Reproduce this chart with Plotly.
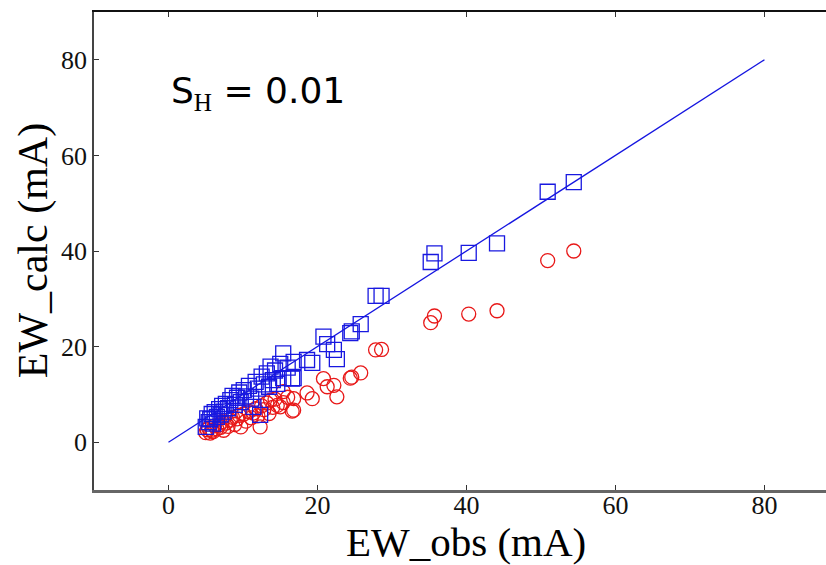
import plotly.graph_objects as go

# Observed equivalent widths (mA)
ew_obs = [54.4, 50.9, 44.1, 40.3, 35.7, 35.2, 28.6, 27.8, 25.8, 24.6,
          24.4, 20.8, 21.3, 22.2, 22.6, 18.6, 19.3, 16.8, 15.4, 16.6,
          5.0, 5.2, 5.4, 5.6, 5.8, 6.0, 6.2, 6.5, 6.8, 7.0,
          7.2, 7.4, 7.7, 8.0, 8.3, 8.6, 8.9, 9.2, 9.5, 9.7,
          10.1, 10.4, 10.8, 11.1, 11.4, 11.7, 12.0, 12.3, 12.5, 12.8,
          13.2, 13.5, 13.7, 14.0, 14.3, 14.6, 15.0, 15.4, 16.0, 16.8]
# Calculated EW, S_H = 0.01 (blue squares)
ew_calc_sh = [54.4, 52.4, 41.6, 39.6, 39.5, 37.7, 30.6, 30.6, 24.7, 23.2,
              22.8, 22.1, 20.5, 19.3, 17.4, 17.2, 16.6, 16.8, 18.6, 13.3,
              3.2, 5.0, 4.2, 4.8, 5.9, 3.9, 6.3, 5.3, 6.9, 5.8,
              7.6, 6.4, 8.0, 7.1, 8.8, 9.7, 7.8, 9.3, 10.4, 8.4,
              10.9, 9.6, 11.8, 9.1, 7.4, 12.6, 11.2, 5.7, 13.7, 12.1,
              14.4, 11.6, 15.8, 13.0, 15.0, 12.2, 16.4, 13.4, 15.6, 13.4]
# Calculated EW, second model (red circles)
ew_calc_alt = [40.0, 38.0, 27.5, 26.8, 26.4, 25.0, 19.4, 19.3, 14.5, 13.6,
               13.4, 13.3, 11.6, 11.9, 9.5, 10.3, 9.1, 9.1, 10.6, 6.5,
               2.0, 2.6, 3.0, 1.9, 2.5, 2.2, 3.4, 2.8, 3.6, 3.1,
               4.3, 2.5, 4.0, 3.3, 4.6, 5.2, 3.7, 4.9, 5.6, 3.2,
               5.9, 4.4, 6.4, 5.1, 6.1, 7.0, 5.5, 3.2, 7.6, 6.8,
               8.2, 6.0, 8.8, 7.3, 9.0, 7.7, 7.4, 8.3, 9.4, 6.7]
# one-to-one line
line_x = [0, 80]
line_y = [0, 80]

tick_vals = [0, 20, 40, 60, 80]
tick_text = ["0", "20", "40", "60", "80"]
x_range = [-10, 88.26]
y_range = [-10, 90]

fig = go.Figure()
fig.add_trace(go.Scatter(x=line_x, y=line_y, mode="lines",
                         line=dict(color="#1515e0", width=1.3),
                         showlegend=False, hoverinfo="skip"))
fig.add_trace(go.Scatter(x=ew_obs, y=ew_calc_alt, mode="markers",
                         marker=dict(symbol="circle-open", size=14,
                                     color="#e81818", line=dict(width=1.3)),
                         showlegend=False))
fig.add_trace(go.Scatter(x=ew_obs, y=ew_calc_sh, mode="markers",
                         marker=dict(symbol="square-open", size=15,
                                     color="#1818e0", line=dict(width=1.3)),
                         showlegend=False))
# invisible trace to carry the top (mirror) axis
fig.add_trace(go.Scatter(x=line_x, y=line_y, xaxis="x2", mode="markers",
                         marker=dict(opacity=0), showlegend=False, hoverinfo="skip"))

serif = "Liberation Serif"
axis_common = dict(
    tickmode="array", tickvals=tick_vals, ticktext=tick_text,
    ticks="inside", ticklen=5, tickwidth=1, tickcolor="#333",
    showgrid=False, zeroline=False, showline=True, automargin=False,
    tickfont=dict(family=serif, size=26, color="#111"),
)
fig.update_layout(
    xaxis=dict(range=x_range, linecolor="#666", linewidth=2.5,
               ticklabelstandoff=-10, **axis_common),
    yaxis=dict(range=y_range, linecolor="#444", linewidth=1.5, **axis_common),
    xaxis2=dict(range=x_range, overlaying="x", side="top", showticklabels=False,
                tickmode="array", tickvals=tick_vals, ticks="inside", ticklen=5,
                tickwidth=1, tickcolor="#333", showgrid=False, zeroline=False,
                showline=True, linecolor="#111", linewidth=1.5, automargin=False),
)

fig.add_annotation(
    text="S<sub><span style='font-family:Liberation Serif'>H</span></sub> = 0.01",
    xref="x", yref="y", x=0.0, y=73, xanchor="left", yanchor="middle", showarrow=False,
    font=dict(family="DejaVu Sans", size=36, color="#000"))
fig.add_annotation(text="EW_obs (mA)", xref="x", yref="paper",
                   x=40, y=-0.109, xanchor="center", yanchor="middle", showarrow=False,
                   font=dict(family=serif, size=41, color="#000"))
fig.add_annotation(text="EW_calc (mA)", xref="paper", yref="paper",
                   x=-0.083, y=0.5, xanchor="center", yanchor="middle", showarrow=False,
                   textangle=-90, font=dict(family=serif, size=42, color="#000"))

fig.update_layout(width=826, height=565, plot_bgcolor="white", paper_bgcolor="white",
                  margin=dict(l=94, r=0, t=12, b=75))

fig.write_html("out.html", config={"displayModeBar": False},
               post_script="document.body.style.margin='0';document.body.style.overflow='hidden';")
